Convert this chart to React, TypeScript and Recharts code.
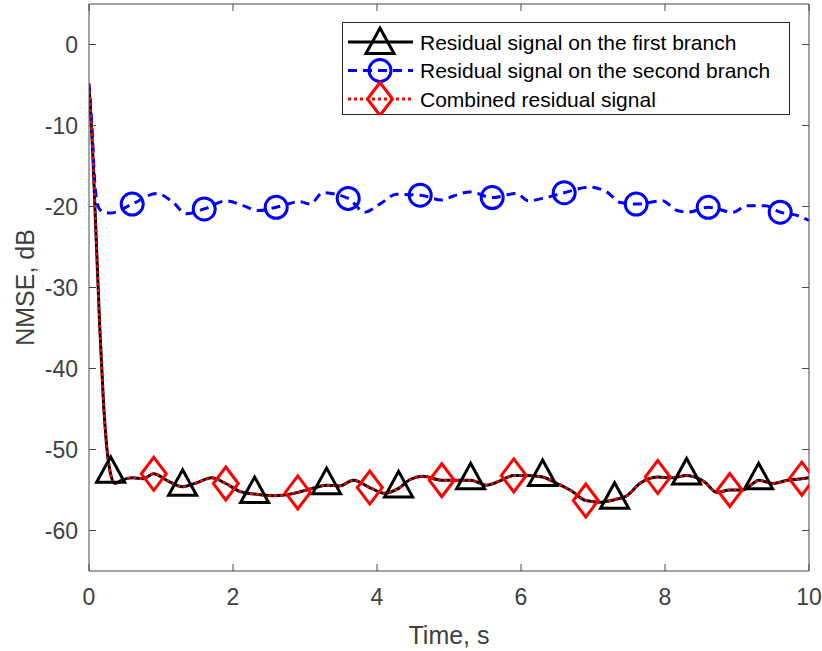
import React from 'react';
import { LineChart, Line, XAxis, YAxis, Label } from 'recharts';

// time (s) and NMSE (dB)
const branchTime = [
  0, 0.05, 0.1, 0.15, 0.2, 0.25, 0.3, 0.36, 0.45, 0.6, 0.75, 0.9, 1.08, 1.3, 1.5, 1.7, 1.9,
  2.1, 2.3, 2.56, 2.9, 3.1, 3.3, 3.48, 3.67, 3.9, 4.1, 4.3, 4.46, 4.64, 4.9, 5.1, 5.3, 5.52,
  5.7, 5.9, 6.1, 6.3, 6.5, 6.7, 6.9, 7.1, 7.3, 7.47, 7.65, 7.9, 8.1, 8.3, 8.55, 8.72, 8.9,
  9.08, 9.22, 9.3, 9.5, 9.7, 9.9, 10,
];
const firstBranchNmse = [
  -5, -13, -24, -35, -44, -50, -53.0, -54.2, -53.8, -53.5, -53.6, -53.0, -53.8, -54.6, -54.1,
  -53.5, -54.2, -55.2, -55.5, -55.7, -55.3, -54.8, -54.4, -54.5, -53.8, -54.7, -55.4, -54.8,
  -53.7, -53.3, -53.8, -53.8, -53.8, -54.4, -53.9, -53.2, -53.2, -53.4, -54.2, -55.1, -56.3,
  -56.5, -56.2, -55.7, -54.2, -53.4, -53.5, -53.2, -54.0, -55.3, -55.0, -55.0, -54.2, -53.8,
  -54.2, -53.8, -53.6, -53.5,
];
const combinedNmse = [
  -5, -13, -24, -35, -44, -50, -53.0, -54.2, -53.8, -53.5, -53.6, -53.0, -53.8, -54.6, -54.1,
  -53.5, -54.2, -55.2, -55.5, -55.7, -55.3, -54.8, -54.4, -54.5, -53.8, -54.7, -55.4, -54.8,
  -53.7, -53.3, -53.8, -53.8, -53.8, -54.4, -53.9, -53.2, -53.2, -53.4, -54.2, -55.1, -56.3,
  -56.5, -56.2, -55.7, -54.2, -53.4, -53.5, -53.2, -54.0, -55.3, -55.0, -55.0, -54.2, -53.8,
  -54.2, -53.8, -53.6, -53.5,
];
const secondTime = [
  0, 0.04, 0.08, 0.12, 0.18, 0.3, 0.6, 0.94, 1.17, 1.35, 1.6, 1.91, 2.14, 2.35, 2.6, 2.93,
  3.07, 3.25, 3.6, 3.83, 4.04, 4.27, 4.6, 4.9, 5.06, 5.29, 5.6, 5.94, 6.1, 6.3, 6.6, 6.96,
  7.19, 7.38, 7.6, 7.96, 8.17, 8.32, 8.6, 8.94, 9.14, 9.39, 9.6, 9.83, 10,
];
const secondBranchNmse = [
  -4.8, -10, -17, -19.8, -20.6, -20.8, -19.7, -18.4, -19.5, -20.9, -20.3, -19.3, -19.9, -20.5,
  -20.1, -19.4, -19.7, -18.3, -19.0, -20.7, -19.7, -18.5, -18.6, -19.2, -18.7, -18.2, -18.9,
  -18.4, -19.3, -19.0, -18.3, -17.6, -18.2, -19.5, -19.7, -19.3, -20.5, -20.7, -20.1, -20.7,
  -19.9, -19.9, -20.7, -21.1, -21.7,
];

// where the markers sit
const triangleTimes = [0.3, 1.3, 2.3, 3.3, 4.3, 5.3, 6.3, 7.3, 8.3, 9.3];
const circleTimes = [0.6, 1.6, 2.6, 3.6, 4.6, 5.6, 6.6, 7.6, 8.6, 9.6];
const diamondTimes = [0.9, 1.9, 2.9, 3.9, 4.9, 5.9, 6.9, 7.9, 8.9, 9.9];

const xTicks = [0, 2, 4, 6, 8, 10];
const yTicks = [-60, -50, -40, -30, -20, -10, 0];
const seriesNames = [
  'Residual signal on the first branch',
  'Residual signal on the second branch',
  'Combined residual signal',
];

const FONT = '"Liberation Sans", Arial, Helvetica, sans-serif';
const AXIS = '#4a4a4a';
const TEXT = '#404040';
const BLUE = '#0000ff';
const RED = '#ff0000';

const firstRows = branchTime.map((t, i) => ({ t, nmse: firstBranchNmse[i], mark: triangleTimes.includes(t) }));
const combinedRows = branchTime.map((t, i) => ({ t, nmse: combinedNmse[i], mark: diamondTimes.includes(t) }));
const secondRows = secondTime.map((t, i) => ({ t, nmse: secondBranchNmse[i], mark: circleTimes.includes(t) }));

const triangle = (cx: number, cy: number, key?: string) => (
  <path key={key} d={`M${cx},${cy - 17}L${cx + 14},${cy + 8.5}L${cx - 14},${cy + 8.5}Z`}
    fill="none" stroke="#000" strokeWidth={3} />
);
const circle = (cx: number, cy: number, key?: string) => (
  <circle key={key} cx={cx} cy={cy} r={11} fill="none" stroke={BLUE} strokeWidth={3} />
);
const diamond = (cx: number, cy: number, key?: string) => (
  <path key={key} d={`M${cx},${cy - 16.5}L${cx + 12.5},${cy}L${cx},${cy + 16.5}L${cx - 12.5},${cy}Z`}
    fill="none" stroke={RED} strokeWidth={3} />
);

const markerDot = (draw: typeof triangle, name: string) => (p: any) =>
  p.payload && p.payload.mark ? draw(p.cx, p.cy, `${name}-${p.index}`) : <g key={`${name}-${p.index}`} />;

const LeftTick = (p: any) => (
  <g>
    <line x1={p.x} x2={p.x + 7} y1={p.y} y2={p.y} stroke={AXIS} />
    <text x={p.x - 11} y={p.y + 8} textAnchor="end" fontSize={23} fontFamily={FONT} fill={TEXT}>
      {p.payload.value}
    </text>
  </g>
);
const BottomTick = (p: any) => (
  <g>
    <line x1={p.x} x2={p.x} y1={p.y} y2={p.y - 7} stroke={AXIS} />
    <text x={p.x} y={p.y + 34} textAnchor="middle" fontSize={23} fontFamily={FONT} fill={TEXT}>
      {p.payload.value}
    </text>
  </g>
);
const TopTick = (p: any) => <line x1={p.x} x2={p.x} y1={p.y} y2={p.y + 7} stroke={AXIS} />;
const RightTick = (p: any) => <line x1={p.x} x2={p.x - 7} y1={p.y} y2={p.y} stroke={AXIS} />;

const LegendBox = () => {
  const rows = [
    { name: seriesNames[0], color: '#000', dash: undefined, marker: triangle, dy: 3 },
    { name: seriesNames[1], color: BLUE, dash: '9 6', marker: circle, dy: 0 },
    { name: seriesNames[2], color: RED, dash: '3 3', marker: diamond, dy: 0 },
  ];
  return (
    <svg width={448} height={93} style={{ position: 'absolute', left: 342, top: 22 }}>
      <rect x={0.5} y={0.5} width={447} height={92} fill="#fff" stroke="#262626" />
      {rows.map((r, i) => {
        const y = 20 + i * 28.5;
        return (
          <g key={r.name}>
            <line x1={6} x2={71} y1={y} y2={y} stroke={r.color} strokeWidth={3} strokeDasharray={r.dash} />
            {r.marker(38, y + r.dy)}
            <text x={78} y={y + 7.5} fontSize={21} fontFamily={FONT} fill="#000">{r.name}</text>
          </g>
        );
      })}
    </svg>
  );
};

const App: React.FC = () => (
  <div style={{ position: 'absolute', left: 0, top: 0, width: 822, height: 651, background: '#fff' }}>
    <LineChart width={822} height={651} margin={{ top: 3, right: 12, bottom: 0, left: 29 }}>
      <XAxis dataKey="t" type="number" domain={[0, 10]} ticks={xTicks} height={80}
        tickSize={0} tickMargin={0} tick={BottomTick} axisLine={{ stroke: AXIS }} allowDataOverflow>
        <Label content={(p: any) => (
          <text x={p.viewBox.x + p.viewBox.width / 2} y={p.viewBox.y + 73} textAnchor="middle"
            fontSize={25} fontFamily={FONT} fill={TEXT}>Time, s</text>
        )} />
      </XAxis>
      <XAxis xAxisId="top" orientation="top" dataKey="t" type="number" domain={[0, 10]} ticks={xTicks}
        height={1} tickSize={0} tickMargin={0} tick={TopTick} axisLine={{ stroke: AXIS }} allowDataOverflow />
      <YAxis type="number" domain={[-65, 5]} ticks={yTicks} width={60} tickSize={0} tickMargin={0}
        tick={LeftTick} axisLine={{ stroke: AXIS }} allowDataOverflow>
        <Label content={(p: any) => {
          const x = p.viewBox.x + p.viewBox.width - 55;
          const y = p.viewBox.y + p.viewBox.height / 2;
          return (
            <text x={x} y={y} transform={`rotate(-90 ${x} ${y})`} textAnchor="middle"
              fontSize={25} fontFamily={FONT} fill={TEXT}>NMSE, dB</text>
          );
        }} />
      </YAxis>
      <YAxis yAxisId="right" orientation="right" type="number" domain={[-65, 5]} ticks={yTicks} width={1}
        tickSize={0} tickMargin={0} tick={RightTick} axisLine={{ stroke: AXIS }} allowDataOverflow />
      <Line data={firstRows} dataKey="nmse" type="monotone" stroke="#000" strokeWidth={3}
        dot={markerDot(triangle, 'tri')} activeDot={false} isAnimationActive={false} />
      <Line data={secondRows} dataKey="nmse" type="monotone" stroke={BLUE} strokeWidth={3}
        strokeDasharray="9 6" dot={markerDot(circle, 'cir')} activeDot={false} isAnimationActive={false} />
      <Line data={combinedRows} dataKey="nmse" type="monotone" stroke={RED} strokeWidth={2.5}
        strokeDasharray="3 3" dot={markerDot(diamond, 'dia')} activeDot={false} isAnimationActive={false} />
    </LineChart>
    <LegendBox />
  </div>
);

export default App;
